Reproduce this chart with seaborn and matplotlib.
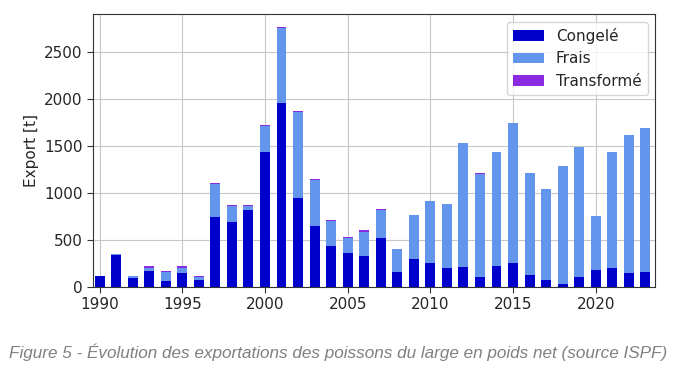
import matplotlib.pyplot as plt
import pandas as pd
import seaborn as sns

years = list(range(1990, 2024))
congele = [120, 337, 99, 170, 60, 149, 71, 752, 691, 826, 1440, 1957, 950, 649, 433, 365,
           326, 518, 163, 298, 252, 202, 213, 106, 220, 259, 124, 78, 28, 110, 177, 199, 149, 156]
frais = [0, 18, 14, 36, 100, 53, 35, 347, 178, 43, 276, 802, 919, 493, 273, 160,
         266, 305, 238, 472, 666, 688, 1319, 1100, 1223, 1493, 1092, 965, 1263, 1386, 582, 1244, 1468, 1535]
transforme = [0, 0, 0, 14, 10, 18, 7, 14, 10, 10, 14, 14, 10, 10, 10, 14,
              11, 10, 0, 0, 0, 0, 0, 14, 0, 0, 0, 0, 0, 0, 0, 0, 0, 0]

sns.set_style("whitegrid", {
    "axes.edgecolor": "0.2",
    "grid.color": "0.78",
    "xtick.bottom": True,
    "ytick.left": True,
})
plt.rcParams["font.family"] = ["DejaVu Sans"]

df = pd.DataFrame({"year": years, "Congelé": congele, "Frais": frais, "Transformé": transforme})
df["cf"] = df["Congelé"] + df["Frais"]
df["total"] = df["cf"] + df["Transformé"]

fig, ax = plt.subplots(figsize=(6.79, 3.69), dpi=100)
fig.subplots_adjust(left=0.137, right=0.965, bottom=0.222, top=0.962)

# layered bars: total first, then partial sums on top
sns.barplot(data=df, x="year", y="total", native_scale=True, width=0.6, color="#8A2BE2",
            saturation=1, linewidth=0, label="Transformé", ax=ax)
sns.barplot(data=df, x="year", y="cf", native_scale=True, width=0.6, color="#6495ED",
            saturation=1, linewidth=0, label="Frais", ax=ax)
sns.barplot(data=df, x="year", y="Congelé", native_scale=True, width=0.6, color="#0000CD",
            saturation=1, linewidth=0, label="Congelé", ax=ax)

ax.set_xlim(1989.6, 2023.6)
ax.set_ylim(0, 2910)
ax.set_xticks(range(1990, 2021, 5))
ax.set_yticks(range(0, 2501, 500))
ax.set_xlabel("")
ax.set_ylabel("Export [t]", fontsize=11)
ax.tick_params(labelsize=11, length=4, color="0.2")
ax.set_axisbelow(True)

handles, labels = ax.get_legend_handles_labels()
order = [labels.index(n) for n in ["Congelé", "Frais", "Transformé"]]
ax.legend([handles[i] for i in order], [labels[i] for i in order],
          loc="upper right", fontsize=11, frameon=True, framealpha=0.8)

fig.text(0.498, 0.046, "Figure 5 - Évolution des exportations des poissons du large en poids net (source ISPF)",
         ha="center", va="center", fontsize=12.3, style="italic", color="#808080",
         family="Liberation Sans")

fig.savefig("out.png", dpi=100)
